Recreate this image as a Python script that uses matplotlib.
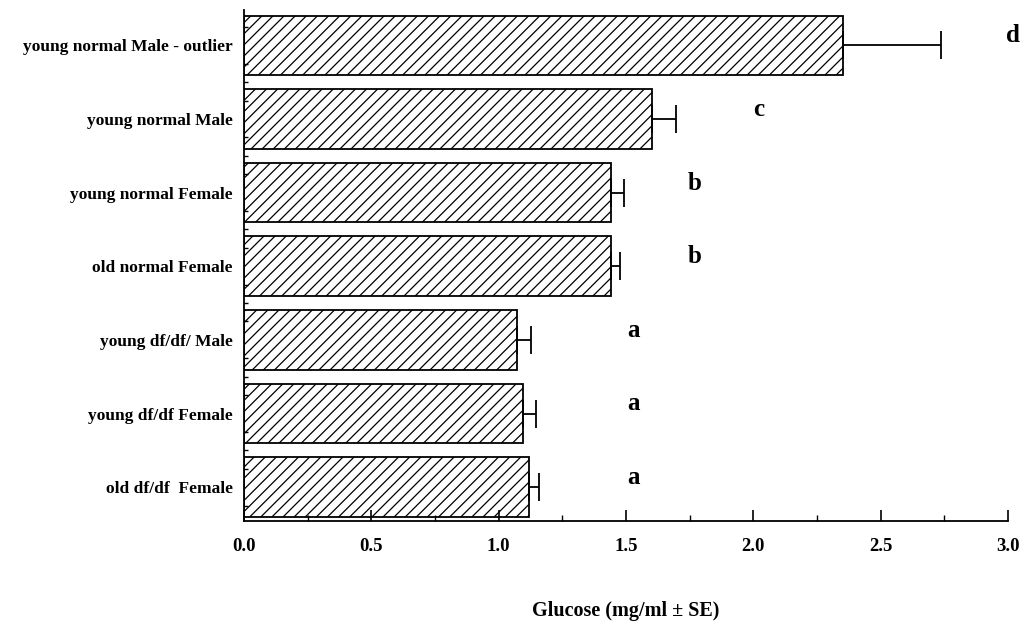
import numpy as np
import matplotlib.pyplot as plt
from matplotlib.ticker import MultipleLocator, FixedLocator

plt.rcParams['font.family'] = ['Liberation Serif', 'DejaVu Serif']
plt.rcParams['hatch.linewidth'] = 0.9

groups = ['young normal Male - outlier', 'young normal Male', 'young normal Female',
          'old normal Female', 'young df/df/ Male', 'young df/df Female', 'old df/df  Female']
glucose = [2.35, 1.60, 1.44, 1.44, 1.07, 1.095, 1.12]
se = [0.385, 0.095, 0.05, 0.035, 0.055, 0.05, 0.04]
letters = ['d', 'c', 'b', 'b', 'a', 'a', 'a']
letter_x = [3.02, 2.02, 1.77, 1.77, 1.53, 1.53, 1.53]

fig = plt.figure(figsize=(10.27, 6.24), dpi=100)
ax = fig.add_axes([0.2376, 0.165, 0.744, 0.819])

y = np.arange(len(groups))
ax.barh(y, glucose, height=0.81, color='white', edgecolor='black', linewidth=1.3, hatch='///')
ax.errorbar(glucose, y, xerr=[np.zeros(len(se)), se], fmt='none', ecolor='black',
            elinewidth=1.3, capsize=10, capthick=1.3)

for yi, lx, lt in zip(y, letter_x, letters):
    ax.text(lx, yi - 0.13, lt, fontsize=18, fontweight='bold', ha='center', va='center')

ax.set_xlim(0, 3.0)
ax.set_ylim(len(groups) - 0.54, -0.48)
ax.set_yticks(y)
ax.set_yticklabels(groups, fontsize=12.5, fontweight='bold')
ax.yaxis.set_minor_locator(FixedLocator(np.arange(-0.5, len(groups), 0.25)))
ax.tick_params(axis='y', which='major', length=0, pad=8)
ax.tick_params(axis='y', which='minor', direction='in', length=3, width=1)

ax.xaxis.set_major_locator(MultipleLocator(0.5))
ax.xaxis.set_minor_locator(MultipleLocator(0.25))
ax.tick_params(axis='x', which='major', direction='in', length=8, width=1.2,
               labelsize=13.5, pad=12)
ax.tick_params(axis='x', which='minor', direction='in', length=4, width=1)
ax.set_xticks(np.arange(0, 3.01, 0.5))
ax.set_xticklabels([f'{v:.1f}' for v in np.arange(0, 3.01, 0.5)], fontweight='bold')

ax.set_xlabel('Glucose (mg/ml \u00b1 SE)', fontsize=14.5, fontweight='bold', labelpad=33)

for s in ['top', 'right']:
    ax.spines[s].set_visible(False)
ax.spines['left'].set_linewidth(1.3)
ax.spines['bottom'].set_linewidth(1.3)

fig.savefig('out.png', dpi=100)
